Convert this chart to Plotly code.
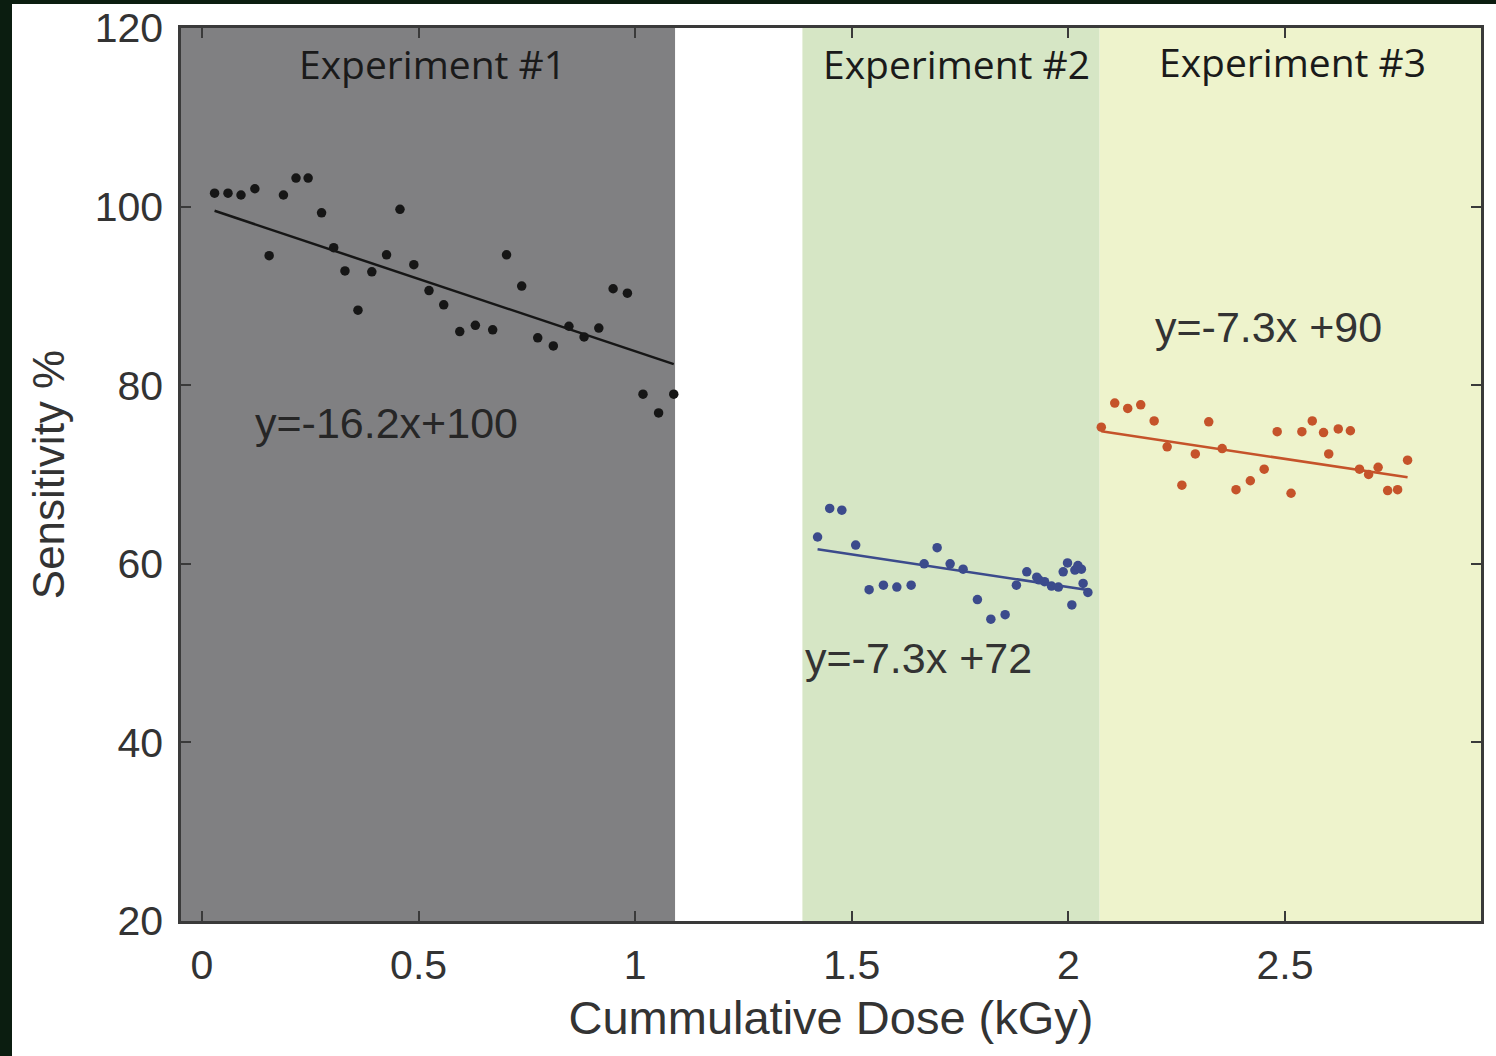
import plotly.graph_objects as go

# ---- data -------------------------------------------------------------
# Experiment #1 (cumulative dose in kGy, sensitivity in %)
exp1_dose = [0.029, 0.060, 0.090, 0.122, 0.155, 0.188, 0.217, 0.245, 0.276, 0.304,
             0.330, 0.360, 0.392, 0.426, 0.457, 0.489, 0.524, 0.558, 0.595, 0.631,
             0.671, 0.703, 0.738, 0.775, 0.811, 0.847, 0.882, 0.916, 0.949, 0.982,
             1.018, 1.054, 1.089]
exp1_sens = [101.5, 101.5, 101.3, 102.0, 94.5, 101.3, 103.2, 103.2, 99.3, 95.4,
             92.8, 88.4, 92.7, 94.6, 99.7, 93.5, 90.6, 89.0, 86.0, 86.7,
             86.2, 94.6, 91.1, 85.3, 84.4, 86.6, 85.4, 86.4, 90.8, 90.3,
             79.0, 76.9, 79.0]

# Experiment #2
exp2_dose = [1.421, 1.449, 1.477, 1.509, 1.540, 1.573, 1.604, 1.637, 1.667, 1.697,
             1.727, 1.757, 1.790, 1.821, 1.854, 1.880, 1.904, 1.927, 1.932, 1.945,
             1.961, 1.977, 1.988, 1.998, 2.008, 2.015, 2.022, 2.030, 2.034, 2.045]
exp2_sens = [63.0, 66.2, 66.0, 62.1, 57.1, 57.6, 57.4, 57.6, 60.0, 61.8,
             60.0, 59.4, 56.0, 53.8, 54.3, 57.6, 59.1, 58.5, 58.2, 58.0,
             57.5, 57.4, 59.1, 60.1, 55.4, 59.3, 59.8, 59.4, 57.8, 56.8]

# Experiment #3
exp3_dose = [2.076, 2.107, 2.137, 2.167, 2.198, 2.228, 2.262, 2.293, 2.324, 2.355,
             2.387, 2.420, 2.452, 2.482, 2.514, 2.539, 2.563, 2.589, 2.601, 2.623,
             2.651, 2.672, 2.693, 2.715, 2.737, 2.760, 2.783]
exp3_sens = [75.3, 78.0, 77.4, 77.8, 76.0, 73.1, 68.8, 72.3, 75.9, 72.9,
             68.3, 69.3, 70.6, 74.8, 67.9, 74.8, 76.0, 74.7, 72.3, 75.1,
             74.9, 70.6, 70.0, 70.8, 68.2, 68.3, 71.6]

# Linear fits y = slope * x + intercept
fit_slopes = [-16.2, -7.3, -7.3]
fit_intercepts = [100, 72, 90]
fit_labels = ["y=-16.2x+100", "y=-7.3x +72", "y=-7.3x +90"]

# Dose span of each experiment's shaded band
experiment_names = ["Experiment #1", "Experiment #2", "Experiment #3"]
experiment_start = [-0.0485, 1.386, 2.072]
experiment_end = [1.092, 2.072, 2.9525]

x_ticks = [0, 0.5, 1, 1.5, 2, 2.5]
x_tick_text = ["0", "0.5", "1", "1.5", "2", "2.5"]
y_ticks = [20, 40, 60, 80, 100, 120]

# ---- styling ----------------------------------------------------------
X_RANGE = [-0.0485, 2.9525]
Y_RANGE = [20, 120]
band_colors = ["#808082", "#d6e6c5", "#eef3cc"]
series_colors = ["#161616", "#3c4b8c", "#c5532a"]
axis_color = "#3a3a3a"
tick_font = dict(family="Liberation Sans, Arial, sans-serif", size=41, color="#333333")

series = [(exp1_dose, exp1_sens), (exp2_dose, exp2_sens), (exp3_dose, exp3_sens)]

fig = go.Figure()

for i, (xs, ys) in enumerate(series):
    fig.add_trace(go.Scatter(
        x=xs, y=ys, mode="markers",
        marker=dict(size=9.5, color=series_colors[i], line=dict(width=0)),
        showlegend=False, hoverinfo="x+y",
    ))
    x_fit = [min(xs), max(xs)]
    y_fit = [fit_slopes[i] * v + fit_intercepts[i] for v in x_fit]
    fig.add_trace(go.Scatter(
        x=x_fit, y=y_fit, mode="lines",
        line=dict(color=series_colors[i], width=2.5),
        showlegend=False, hoverinfo="skip",
    ))

# shaded experiment bands
shapes = []
for i in range(3):
    shapes.append(dict(
        type="rect", xref="x", yref="paper",
        x0=experiment_start[i], x1=experiment_end[i], y0=0, y1=1,
        fillcolor=band_colors[i], line=dict(width=0), layer="below",
    ))

# dark page strips along the top and left edges
page_dark = "#0b1d10"
shapes.append(dict(type="rect", xref="paper", yref="paper",
                   x0=-0.2, x1=1.2, y0=1.0269, y1=1.05,
                   fillcolor=page_dark, line=dict(width=0), layer="below"))
shapes.append(dict(type="rect", xref="paper", yref="paper",
                   x0=-0.2, x1=-0.13, y0=-0.3, y1=1.05,
                   fillcolor=page_dark, line=dict(width=0), layer="below"))

annotations = []
exp_label_pos = [(0.533, 116.0), (1.741, 116.0), (2.518, 116.2)]
for name, (ax_, ay_) in zip(experiment_names, exp_label_pos):
    annotations.append(dict(
        x=ax_, y=ay_, xref="x", yref="y", text=name, showarrow=False,
        font=dict(family="Open Sans, Noto Sans, sans-serif", size=39, color="#1a1a1a"),
        xanchor="center", yanchor="middle",
    ))

eq_label_pos = [(0.425, 75.75), (1.655, 49.4), (2.461, 86.5)]
eq_colors = ["#262626", "#333333", "#333333"]
for text, (ax_, ay_), c in zip(fit_labels, eq_label_pos, eq_colors):
    annotations.append(dict(
        x=ax_, y=ay_, xref="x", yref="y", text=text, showarrow=False,
        font=dict(family="Liberation Sans, Arial, sans-serif", size=43, color=c),
        xanchor="center", yanchor="middle",
    ))

fig.update_layout(
    width=1496, height=1056,
    margin=dict(l=181, r=15, t=28, b=135),
    paper_bgcolor="white",
    plot_bgcolor="white",
    shapes=shapes,
    annotations=annotations,
    showlegend=False,
)

fig.update_xaxes(
    range=X_RANGE, tickvals=x_ticks, ticktext=x_tick_text, automargin=False,
    showgrid=False, zeroline=False,
    showline=True, linecolor=axis_color, linewidth=2.5, mirror="ticks",
    ticks="inside", ticklen=10, tickwidth=2, tickcolor=axis_color,
    tickfont=tick_font, ticklabelstandoff=6,
    title=dict(text="Cummulative Dose (kGy)",
               font=dict(family="Liberation Sans, Arial, sans-serif", size=47, color="#333333"),
               standoff=15),
)
fig.update_yaxes(
    range=Y_RANGE, tickvals=y_ticks, automargin=False,
    showgrid=False, zeroline=False,
    showline=True, linecolor=axis_color, linewidth=2.5, mirror="ticks",
    ticks="inside", ticklen=10, tickwidth=2, tickcolor=axis_color,
    tickfont=tick_font, ticklabelstandoff=7,
    title=dict(text="Sensitivity %",
               font=dict(family="Liberation Sans, Arial, sans-serif", size=44, color="#333333"),
               standoff=17),
)

fig.write_html("out.html")
